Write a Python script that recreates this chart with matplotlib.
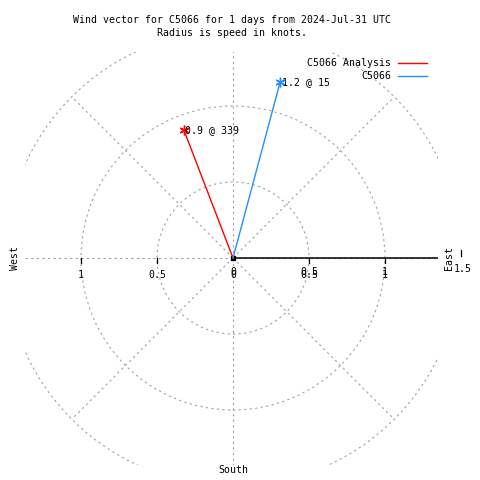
import numpy as np
import matplotlib
matplotlib.use("Agg")
import matplotlib.pyplot as plt
from matplotlib.patches import Circle

# data
series = ["C5066 Analysis", "C5066"]
speeds = [0.9, 1.2]          # knots
directions = [339, 15]       # degrees from north
colors = ["#ff0000", "#1e90ff"]
rings = [0.5, 1.0, 1.5]
tick_vals = [0, 0.5, 1, 1.5]
tick_labels = ["0", "0.5", "1", "1.5"]
left_vals = [-1, -0.5, 0]
left_labels = ["1", "0.5", "0"]

plt.rcParams['font.family'] = ['DejaVu Sans Mono']
fs = 7.1
W = 480
S = 152.0  # px per knot
cx, cy = 233, 258

fig = plt.figure(figsize=(4.8, 4.8), dpi=100)
x0, x1, y0, y1 = 25, 438, 52, 465
ax = fig.add_axes([x0 / W, (W - y1) / W, (x1 - x0) / W, (y1 - y0) / W])
ax.set_xlim((x0 - cx) / S, (x1 - cx) / S)
ax.set_ylim((cy - y1) / S, (cy - y0) / S)
ax.set_aspect('equal')
ax.axis('off')

grid_kw = dict(color='#a0a0a0', lw=0.8, linestyle=(0, (2, 3)))
for r in rings:
    ax.add_patch(Circle((0, 0), r, fill=False, **grid_kw))
for a in range(0, 360, 45):
    t = np.radians(a)
    R = rings[-1]
    ax.plot([0, R * np.sin(t)], [0, R * np.cos(t)], **grid_kw)

# east axis
ax.plot([0, 1.5], [0, 0], color='black', lw=1.1)
for v in tick_vals[1:3] + left_vals[:-1]:
    ax.plot([v, v], [0, -0.035], color='black', lw=0.9)
ax.plot([1.5, 1.5], [0.01, 0.05], color='black', lw=0.9, clip_on=False)
for v, lab in zip(tick_vals[:3], tick_labels[:3]):
    ax.text(v, -0.09, lab, ha='center', va='center', fontsize=fs)
ax.text(1.51, -0.07, tick_labels[3], ha='center', va='center', fontsize=fs, clip_on=False)
for v, lab in zip(left_vals, left_labels):
    ax.text(v, -0.112, lab, ha='center', va='center', fontsize=fs)
for v, lab in zip(tick_vals[1:3], tick_labels[1:3]):
    ax.text(v, -0.112, lab, ha='center', va='center', fontsize=fs)
ax.plot(0, 0, marker='s', color='black', ms=2.5)

# vectors
for name, sp, d, c in zip(series, speeds, directions, colors):
    t = np.radians(d)
    ex, ey = sp * np.sin(t), sp * np.cos(t)
    ax.plot([0, ex], [0, ey], color=c, lw=1.0)
    ax.plot(ex, ey, marker=(6, 2, 0), color=c, ms=7, mew=1.0)
    ax.text(ex + 0.01, ey, f"{sp:g} @ {d}", ha='left', va='center', fontsize=fs)

# legend
for i, (name, c) in enumerate(zip(series, colors)):
    yy = 1 - (63 + 13 * i) / W
    fig.text(391 / W, yy, name, ha='right', va='center', fontsize=fs)
    fig.add_artist(plt.Line2D([398 / W, 427 / W], [yy, yy], color=c, lw=1.0))

fig.text(15 / W, 1 - 258 / W, "West", rotation=90, ha='center', va='center', fontsize=fs)
fig.text(449 / W, 1 - 258 / W, "East", rotation=90, ha='center', va='center', fontsize=fs)
fig.text(233 / W, 1 - 470 / W, "South", ha='center', va='center', fontsize=fs)

fig.text(232 / W, 1 - 20 / W, "Wind vector for C5066 for 1 days from 2024-Jul-31 UTC",
         ha='center', va='center', fontsize=fs)
fig.text(232 / W, 1 - 33 / W, "Radius is speed in knots.", ha='center', va='center', fontsize=fs)

fig.savefig("out.png", dpi=100)
